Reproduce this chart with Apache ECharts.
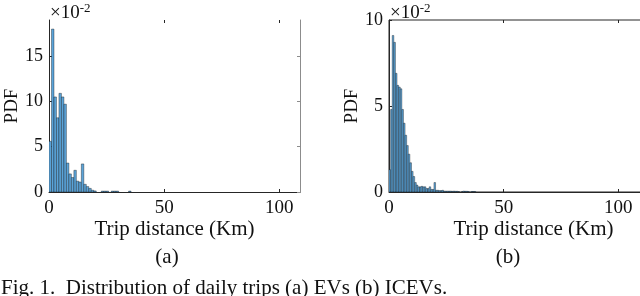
<!DOCTYPE html>
<html><head><meta charset="utf-8">
<script src="https://cdn.jsdelivr.net/npm/echarts@6/dist/echarts.min.js"></script>
<style>html,body{margin:0;padding:0;background:#fff}#c{width:640px;height:296px}</style>
</head><body><div id="c"></div>
<script>
// ---- data (PDF values in units of 1e-2) ----
const evBinWidth = 1.08;   // km
const evPdf = [5.6, 18.0, 10.5, 8.2, 10.9, 10.5, 9.7, 3.2, 2.0, 1.6, 2.4, 1.2, 1.1, 3.1, 0.85, 0.6, 0.4, 0.2, 0.12, 0, 0, 0.1, 0.1, 0.1, 0, 0.1, 0.1, 0.1, 0, 0, 0, 0, 0.1];
const icevBinWidth = 0.7;  // km
const icevPdf = [1.3, 4.8, 9.1, 8.7, 6.9, 6.2, 6.1, 6.0, 4.8, 4.0, 3.3, 2.7, 2.2, 1.7, 1.2, 0.9,
  0.55, 0.4, 0.3, 0.3, 0.33, 0.3, 0.3, 0.2, 0.2, 0.3, 0.15, 0.15, 0.55, 0.1, 0.1, 0.08, 0.08, 0.1,
  0.05, 0.05, 0.05, 0.05, 0.05, 0.04, 0.05, 0.04, 0.04, 0.02, 0, 0.02, 0.05, 0.04, 0.04, 0.03, 0, 0.03, 0.03, 0.03];
const xTicks = [0, 50, 100];
const evYTicks = [0, 5, 10, 15];
const icevYTicks = [0, 5, 10];
const xTitle = 'Trip distance (Km)';
const yTitle = 'PDF';
const panelLabels = ['(a)', '(b)'];
const caption = 'Fig. 1.  Distribution of daily trips (a) EVs (b) ICEVs.';
const scaleBase = '\u00d710';
const scaleExp = '-2';

const FONT = '"Liberation Serif", "DejaVu Serif", serif';
const TXT = '#111';
const bins = (pdf, w) => pdf.map((v, i) => [i * w, (i + 1) * w, v]);

const renderBar = (params, api) => {
  const v = api.value(2);
  if (!v) return null;
  const p0 = api.coord([api.value(0), v]);
  const p1 = api.coord([api.value(1), 0]);
  return {
    type: 'rect',
    shape: { x: p0[0], y: p0[1], width: p1[0] - p0[0], height: p1[1] - p0[1] },
    style: { fill: '#5ba4d9', stroke: 'rgba(0,0,0,0.7)', lineWidth: 0.5 }
  };
};

function xAxes(gridIndex, max) {
  return [{
    type: 'value', gridIndex, min: 0, max, position: 'bottom',
    axisLine: { show: true, onZero: false, lineStyle: { color: '#262626', width: 1 } },
    axisTick: { show: true, inside: true, length: 3, customValues: xTicks, lineStyle: { color: '#262626' } },
    axisLabel: { customValues: xTicks, fontFamily: FONT, fontSize: 19, color: TXT, margin: 7 },
    splitLine: { show: false },
    name: xTitle, nameLocation: 'middle', nameGap: 27, nameMoveOverlap: false,
    nameTextStyle: { fontFamily: FONT, fontSize: 21, color: TXT }
  }, {
    type: 'value', gridIndex, min: 0, max, position: 'top',
    axisLine: { show: false, onZero: false },
    axisTick: { show: true, inside: true, length: 3, customValues: xTicks, lineStyle: { color: '#262626' } },
    axisLabel: { show: false }, splitLine: { show: false }
  }];
}
function yAxes(gridIndex, max, ticks, rightLine) {
  return [{
    type: 'value', gridIndex, min: 0, max, position: 'left',
    axisLine: { show: true, onZero: false, lineStyle: { color: '#262626', width: 1 } },
    axisTick: { show: true, inside: true, length: 3, customValues: ticks, lineStyle: { color: '#262626' } },
    axisLabel: { customValues: ticks, fontFamily: FONT, fontSize: 18, color: TXT, margin: 6 },
    splitLine: { show: false },
    name: yTitle, nameLocation: 'middle', nameGap: 27, nameRotate: 90,
    nameTextStyle: { fontFamily: FONT, fontSize: 19, color: TXT }
  }, {
    type: 'value', gridIndex, min: 0, max, position: 'right',
    axisLine: { show: rightLine, onZero: false, lineStyle: { color: '#8c8c8c', width: 1 } },
    axisTick: { show: rightLine, inside: true, length: 3, customValues: ticks, lineStyle: { color: '#8c8c8c' } },
    axisLabel: { show: false }, splitLine: { show: false }
  }];
}

const chart = echarts.init(document.getElementById('c'), null, { renderer: 'canvas' });
chart.setOption({
  backgroundColor: '#fff',
  animation: false,
  grid: [
    { left: 49, width: 251, top: 20, height: 172, outerBoundsMode: 'none', containLabel: false },
    { left: 389, width: 289, top: 20, height: 172, outerBoundsMode: 'none', containLabel: false,
      show: true, borderColor: '#262626', borderWidth: 1, backgroundColor: 'transparent' }
  ],
  xAxis: [...xAxes(0, 109), ...xAxes(1, 126)],
  yAxis: [...yAxes(0, 19, evYTicks, true), ...yAxes(1, 10, icevYTicks, false)],
  series: [
    { type: 'custom', name: 'EVs', xAxisIndex: 0, yAxisIndex: 0, clip: true,
      renderItem: renderBar, encode: { x: [0, 1], y: 2 }, data: bins(evPdf, evBinWidth) },
    { type: 'custom', name: 'ICEVs', xAxisIndex: 2, yAxisIndex: 2, clip: true,
      renderItem: renderBar, encode: { x: [0, 1], y: 2 }, data: bins(icevPdf, icevBinWidth) }
  ],
  graphic: [
    { type: 'text', left: 50, top: 2, style: { text: '{b|' + scaleBase + '}{e|' + scaleExp + '}',
      rich: { b: { fontFamily: FONT, fontSize: 19, fill: TXT, verticalAlign: 'bottom' },
              e: { fontFamily: FONT, fontSize: 13, fill: TXT, verticalAlign: 'top', padding: [0, 0, 8, 0] } } } },
    { type: 'text', left: 390, top: 2, style: { text: '{b|' + scaleBase + '}{e|' + scaleExp + '}',
      rich: { b: { fontFamily: FONT, fontSize: 19, fill: TXT, verticalAlign: 'bottom' },
              e: { fontFamily: FONT, fontSize: 13, fill: TXT, verticalAlign: 'top', padding: [0, 0, 8, 0] } } } },
    { type: 'text', x: 167, y: 257, style: { text: panelLabels[0], font: '21px ' + FONT, fill: TXT, align: 'center', verticalAlign: 'middle' } },
    { type: 'text', x: 508, y: 257, style: { text: panelLabels[1], font: '21px ' + FONT, fill: TXT, align: 'center', verticalAlign: 'middle' } },
    { type: 'text', x: 1, y: 288, style: { text: caption, font: '21px ' + FONT, fill: TXT, align: 'left', verticalAlign: 'middle' } }
  ]
});
</script></body></html>
